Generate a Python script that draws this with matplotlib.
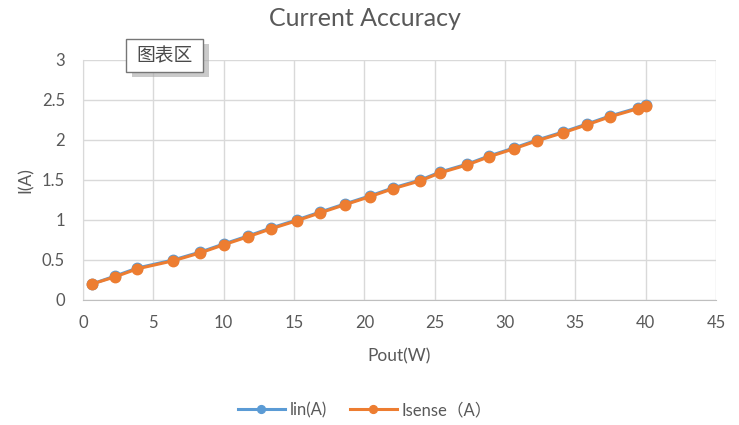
import matplotlib
matplotlib.use('Agg')
import matplotlib.pyplot as plt
from matplotlib.patches import FancyBboxPatch

plt.rcParams['font.family'] = ['Lato', 'Noto Sans CJK SC', 'DejaVu Sans']

# Pout(W) sweep and measured currents
pout = [0.64, 2.29, 3.87, 6.41, 8.35, 10.0, 11.72, 13.37, 15.18, 16.87,
        18.6, 20.37, 22.02, 23.98, 25.4, 27.33, 28.86, 30.63, 32.28, 34.12,
        35.82, 37.46, 39.42, 40.0]
lin = [0.2, 0.3, 0.4, 0.5, 0.6, 0.7, 0.8, 0.9, 1.0, 1.1,
       1.2, 1.3, 1.4, 1.5, 1.6, 1.7, 1.8, 1.9, 2.0, 2.1,
       2.2, 2.3, 2.4, 2.44]
isense = [0.2, 0.29, 0.39, 0.49, 0.59, 0.69, 0.79, 0.89, 0.99, 1.09,
          1.19, 1.29, 1.39, 1.49, 1.59, 1.69, 1.79, 1.89, 1.99, 2.09,
          2.19, 2.29, 2.39, 2.43]

xticks = list(range(0, 46, 5))
yticks = [0, 0.5, 1, 1.5, 2, 2.5, 3]
ytick_labels = ['0', '0.5', '1', '1.5', '2', '2.5', '3']

txt = '#595959'

fig = plt.figure(figsize=(7.39, 4.25), dpi=100)
ax = fig.add_axes([83/739, 1-300/425, (716-83)/739, (300-60)/425])

ax.plot(pout, lin, color='#5B9BD5', lw=2.2, marker='o', ms=7.5, label='lin(A)', zorder=3)
ax.plot(pout, isense, color='#ED7D31', lw=2.2, marker='o', ms=7.5, label='Isense（A）', zorder=4)

ax.set_xlim(0, 45)
ax.set_ylim(0, 3)
ax.set_xticks(xticks)
ax.set_yticks(yticks)
ax.set_yticklabels(ytick_labels)
ax.tick_params(length=0, labelsize=12, colors=txt)
ax.tick_params(axis='x', pad=11)
ax.tick_params(axis='y', pad=13)
ax.grid(color='#d9d9d9', lw=1)
ax.set_axisbelow(True)
for s in ['top', 'right']:
    ax.spines[s].set_visible(False)
ax.spines['left'].set_color('#d9d9d9')
ax.spines['bottom'].set_color('#bfbfbf')

ax.set_xlabel('Pout(W)', fontsize=12.5, color=txt, labelpad=12)
ax.set_ylabel('I(A)', fontsize=12.5, color=txt, labelpad=6)
fig.text(365/739, 1-18/425, 'Current Accuracy', ha='center', va='center', fontsize=18, color=txt)

leg = fig.legend(loc='center', bbox_to_anchor=(365/739, 1-410/425), ncol=2, frameon=False,
                 fontsize=12, handlelength=2.8, columnspacing=1.4, handletextpad=0.3,
                 markerscale=0.75)
for t in leg.get_texts():
    t.set_color(txt)

# chart area tooltip with drop shadow
shadow = FancyBboxPatch((132/739, 1-77/425), 77/739, 33/425, boxstyle='square,pad=0',
                        transform=fig.transFigure, fc='#a8a8a8', ec='none', alpha=0.6)
box = FancyBboxPatch((126/739, 1-72/425), 77/739, 33/425, boxstyle='square,pad=0',
                     transform=fig.transFigure, fc='white', ec='#767676', lw=1)
fig.patches.extend([shadow, box])
fig.text(164.5/739, 1-56/425, '图表区', ha='center', va='center', fontsize=13.5,
         color='#4a4a4a', family=['Noto Sans CJK SC'])

fig.savefig('out.png', dpi=100)
